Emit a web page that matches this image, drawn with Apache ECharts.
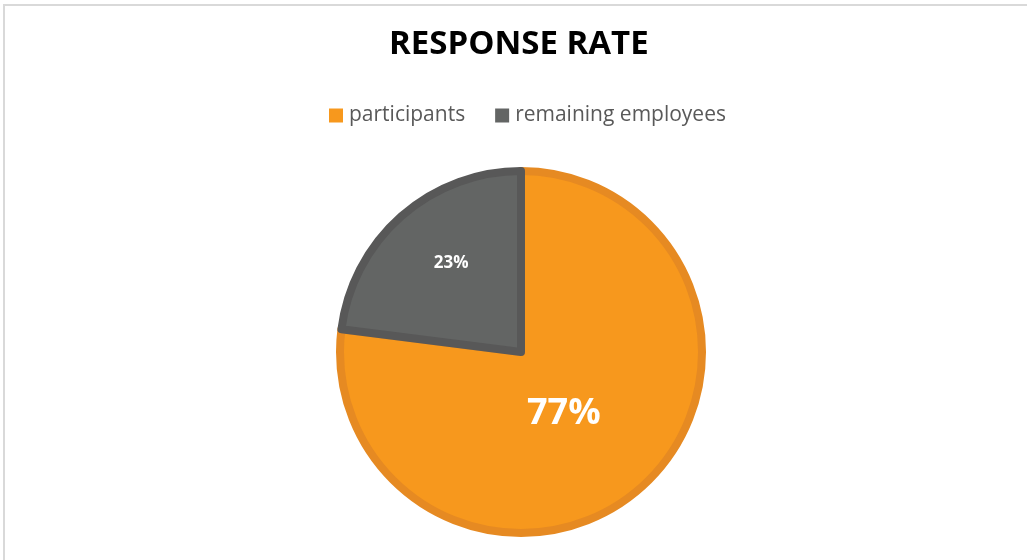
<!DOCTYPE html>
<html><head><meta charset="utf-8">
<script src="https://cdn.jsdelivr.net/npm/echarts@6/dist/echarts.min.js"></script>
<style>html,body{margin:0;padding:0;background:#fff}#c{width:1027px;height:560px}</style>
</head><body><div id="c"></div>
<script>
const categories = ['participants', 'remaining employees'];
const values = [77, 23];
const labelTexts = ['77%', '23%'];
const fills = ['#F7981D', '#636564'];
const borders = ['#E68A22', '#585858'];

const chart = echarts.init(document.getElementById('c'));
chart.setOption({
  backgroundColor: '#fff',
  animation: false,
  graphic: [{
    type: 'rect', shape: {x: 4, y: 5, width: 1100, height: 1000},
    style: {fill: 'none', stroke: '#D9D9D9', lineWidth: 2}, silent: true
  }],
  title: {
    text: 'RESPONSE RATE', left: 389, top: 28, padding: 0,
    textStyle: {fontFamily: 'Open Sans', fontWeight: 'bold', fontSize: 33, color: '#000'}
  },
  legend: {
    top: 100, left: 324, itemWidth: 14, itemHeight: 14, itemGap: 30,
    icon: 'rect',
    itemStyle: {borderWidth: 0},
    textStyle: {fontFamily: 'Open Sans', fontSize: 21, color: '#595959', padding: [0, 0, 0, 1]},
    data: categories
  },
  series: [{
    type: 'pie',
    center: [521, 352],
    radius: ['0%', 181],
    startAngle: 90,
    clockwise: true,
    silent: true,
    labelLine: {show: false},
    data: categories.map((c, i) => ({
      name: c, value: values[i],
      itemStyle: {color: fills[i], borderColor: borders[i], borderWidth: 8},
      label: {
        show: true, position: 'inside', formatter: labelTexts[i],
        fontFamily: 'Open Sans', fontWeight: 'bold', color: '#fff',
        fontSize: i === 0 ? 36 : 17,
        offset: i === 0 ? [-19, -8] : [-8, -19]
      }
    }))
  }]
});
</script></body></html>
